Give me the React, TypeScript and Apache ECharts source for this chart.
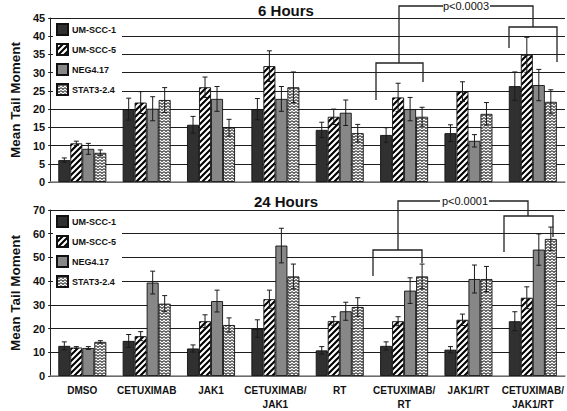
import React, { useEffect, useRef } from 'react';
import * as echarts from 'echarts';

const categories = [
  'DMSO',
  'CETUXIMAB',
  'JAK1',
  'CETUXIMAB/\nJAK1',
  'RT',
  'CETUXIMAB/\nRT',
  'JAK1/RT',
  'CETUXIMAB/\nJAK1/RT',
];
const seriesNames = ['UM-SCC-1', 'UM-SCC-5', 'NEG4.17', 'STAT3-2.4'];

// 6 hours
const h6_um1 = [6.0, 20.0, 15.7, 20.0, 14.3, 12.9, 13.4, 26.3];
const h6_um5 = [10.6, 21.8, 26.0, 31.8, 17.9, 23.2, 24.8, 34.9];
const h6_neg = [9.1, 20.1, 22.8, 22.8, 19.0, 20.0, 11.3, 26.6];
const h6_stat = [8.0, 22.5, 14.9, 26.0, 13.4, 17.9, 18.7, 22.0];
const h6_um1_err = [0.6, 3.0, 2.3, 2.9, 2.1, 2.0, 2.3, 3.9];
const h6_um5_err = [0.6, 3.0, 2.8, 4.2, 2.1, 3.9, 2.7, 4.8];
const h6_neg_err = [1.5, 3.3, 3.4, 3.4, 3.5, 3.2, 1.7, 4.3];
const h6_stat_err = [0.8, 3.4, 2.3, 4.2, 2.4, 2.6, 3.1, 3.3];

// 24 hours
const h24_um1 = [12.7, 14.8, 11.6, 20.0, 10.8, 12.7, 11.1, 23.1];
const h24_um5 = [12.0, 16.8, 23.1, 32.4, 23.2, 23.1, 23.7, 33.0];
const h24_neg = [11.8, 39.4, 31.6, 55.0, 27.3, 36.0, 40.9, 53.3];
const h24_stat = [14.4, 30.5, 21.5, 42.0, 29.1, 42.0, 40.9, 57.8];
const h24_um1_err = [1.7, 2.7, 1.5, 3.7, 1.6, 1.7, 1.3, 4.0];
const h24_um5_err = [0.4, 1.9, 2.7, 3.8, 1.8, 1.9, 2.4, 4.6];
const h24_neg_err = [0.6, 4.8, 4.6, 7.3, 3.8, 5.4, 5.9, 6.6];
const h24_stat_err = [0.5, 3.4, 3.0, 5.2, 3.9, 5.2, 5.3, 5.0];

const titles = ['6 Hours', '24 Hours'];
const pLabels = ['p<0.0003', 'p<0.0001'];
const yAxisName = 'Mean Tail Moment';

const FONT = '"Liberation Sans", Arial, sans-serif';
const BAR_W = 12;

function makeStripe(): any {
  const s = 6;
  const c = document.createElement('canvas');
  c.width = s;
  c.height = s;
  const ctx = c.getContext('2d')!;
  ctx.fillStyle = '#ffffff';
  ctx.fillRect(0, 0, s, s);
  ctx.strokeStyle = '#000000';
  ctx.lineWidth = 2.1;
  ctx.beginPath();
  ctx.moveTo(0, s); ctx.lineTo(s, 0);
  ctx.moveTo(-s / 2, s / 2); ctx.lineTo(s / 2, -s / 2);
  ctx.moveTo(s / 2, s * 1.5); ctx.lineTo(s * 1.5, s / 2);
  ctx.stroke();
  return { image: c.toDataURL(), repeat: 'repeat', imageWidth: s, imageHeight: s };
}

function makeWave(): any {
  const w = 4, h = 3;
  const c = document.createElement('canvas');
  c.width = w;
  c.height = h;
  const ctx = c.getContext('2d')!;
  ctx.fillStyle = '#ffffff';
  ctx.fillRect(0, 0, w, h);
  ctx.strokeStyle = '#333333';
  ctx.lineWidth = 1.1;
  ctx.beginPath();
  ctx.moveTo(0, 0.6);
  ctx.lineTo(2, 2.4);
  ctx.lineTo(4, 0.6);
  ctx.stroke();
  return { image: c.toDataURL(), repeat: 'repeat', imageWidth: w, imageHeight: h };
}

export default function App() {
  const ref = useRef<HTMLDivElement>(null);
  useEffect(() => {
    if (!ref.current) return;
    const chart = echarts.init(ref.current, null, { renderer: 'svg' });
    const fills = ['#303030', makeStripe(), '#878787', makeWave()];

    const panels = [
      { vals: [h6_um1, h6_um5, h6_neg, h6_stat], errs: [h6_um1_err, h6_um5_err, h6_neg_err, h6_stat_err] },
      { vals: [h24_um1, h24_um5, h24_neg, h24_stat], errs: [h24_um1_err, h24_um5_err, h24_neg_err, h24_stat_err] },
    ];

    const series: any[] = [];
    panels.forEach((p, pi) => {
      p.vals.forEach((v, gi) => {
        series.push({
          type: 'bar',
          name: seriesNames[gi],
          xAxisIndex: pi,
          yAxisIndex: pi,
          barWidth: BAR_W,
          barGap: '0%',
          data: v,
          itemStyle: { color: fills[gi], borderColor: '#111', borderWidth: 0.9 },
          z: 2,
        });
      });
      p.vals.forEach((v, gi) => {
        series.push({
          type: 'custom',
          name: 'err' + pi + '-' + gi,
          xAxisIndex: pi,
          yAxisIndex: pi,
          z: 4,
          silent: true,
          encode: { x: 0, y: 1 },
          data: v.map((val, i) => [i, val, p.errs[gi][i]]),
          renderItem: (params: any, api: any) => {
            const c = api.value(0);
            const val = api.value(1);
            const e = api.value(2);
            const base = api.coord([c, val]);
            const x = base[0] + (gi - 1.5) * BAR_W;
            const yt = api.coord([c, val + e])[1];
            const yb = api.coord([c, val - e])[1];
            const style = { stroke: '#1a1a1a', lineWidth: 1 };
            return {
              type: 'group',
              children: [
                { type: 'line', shape: { x1: x, y1: yt, x2: x, y2: yb }, style },
                { type: 'line', shape: { x1: x - 2.5, y1: yt, x2: x + 2.5, y2: yt }, style },
                { type: 'line', shape: { x1: x - 2.5, y1: yb, x2: x + 2.5, y2: yb }, style },
              ],
            };
          },
        });
      });
    });

    const lineStyle = { stroke: '#222', lineWidth: 1.3, fill: 'none' };
    const poly = (pts: number[][]) => ({ type: 'polyline', shape: { points: pts }, style: lineStyle, z: 10 });
    const ptext = (x: number, y: number, t: string) => ({
      type: 'text', x, y, z: 10,
      style: { text: t, fill: '#111', font: '11px ' + FONT, textAlign: 'center', textVerticalAlign: 'middle' },
    });
    const ttext = (x: number, y: number, t: string) => ({
      type: 'text', x, y, z: 10,
      style: { text: t, fill: '#111', font: 'bold 15px ' + FONT, textAlign: 'center', textVerticalAlign: 'middle' },
    });

    const graphic = [
      ttext(286, 10, titles[0]),
      ttext(286, 201, titles[1]),
      // 6h brackets
      poly([[399, 63], [399, 6], [443, 6]]),
      poly([[490, 6], [533, 6], [533, 27]]),
      ptext(466, 6, pLabels[0]),
      poly([[376, 100], [376, 63], [423, 63], [423, 82]]),
      poly([[509, 48], [509, 27], [557, 27], [557, 62]]),
      // 24h brackets
      poly([[398, 250], [398, 201], [440, 201]]),
      poly([[489, 201], [528, 201], [528, 216]]),
      ptext(465, 201, pLabels[1]),
      poly([[373, 276], [373, 250], [422, 250], [422, 263]]),
      poly([[504, 252], [504, 216], [553, 216], [553, 237]]),
    ];

    const yAxisCommon = {
      type: 'value',
      name: yAxisName,
      nameLocation: 'middle',
      nameGap: 25,
      nameTextStyle: { fontFamily: FONT, fontWeight: 'bold', fontSize: 13.5, color: '#111' },
      axisLine: { show: true, lineStyle: { color: '#222', width: 1 } },
      axisTick: { show: true, length: 2, lineStyle: { color: '#222' } },
      axisLabel: { fontFamily: FONT, fontWeight: 'bold', fontSize: 11, color: '#111', margin: 5 },
      splitLine: { show: true, lineStyle: { color: '#1e1e1e', width: 1.1 } },
    };

    const legendCommon = {
      orient: 'vertical',
      left: 53,
      data: seriesNames,
      icon: 'rect',
      itemWidth: 11,
      itemHeight: 11,
      itemGap: 7,
      padding: [3, 6, 3, 3],
      backgroundColor: '#ffffff',
      textStyle: { fontFamily: FONT, fontWeight: 'bold', fontSize: 9, color: '#111', padding: [0, 0, 0, -1] },
      selectedMode: false,
    };

    chart.setOption({
      animation: false,
      backgroundColor: '#ffffff',
      grid: [
        { left: 35, right: 2, top: 18, height: 164 },
        { left: 35, right: 2, top: 210, height: 171 },
      ],
      xAxis: [
        {
          type: 'category', gridIndex: 0, data: categories,
          axisLine: { lineStyle: { color: '#888', width: 1.5 } },
          axisTick: { show: false },
          axisLabel: { show: false },
        },
        {
          type: 'category', gridIndex: 1, data: categories,
          axisLine: { lineStyle: { color: '#888', width: 1.5 } },
          axisTick: { show: false },
          axisLabel: {
            fontFamily: FONT, fontWeight: 'bold', fontSize: 10, color: '#111',
            margin: 7, lineHeight: 14, interval: 0,
          },
        },
      ],
      yAxis: [
        { ...yAxisCommon, gridIndex: 0, min: 0, max: 45, interval: 5 },
        { ...yAxisCommon, gridIndex: 1, min: 0, max: 70, interval: 10 },
      ],
      legend: [
        { ...legendCommon, top: 20 },
        { ...legendCommon, top: 212 },
      ],
      graphic,
      series,
    });
    return () => chart.dispose();
  }, []);
  return <div ref={ref} style={{ position: 'absolute', left: 0, top: 0, width: 567, height: 411 }} />;
}
